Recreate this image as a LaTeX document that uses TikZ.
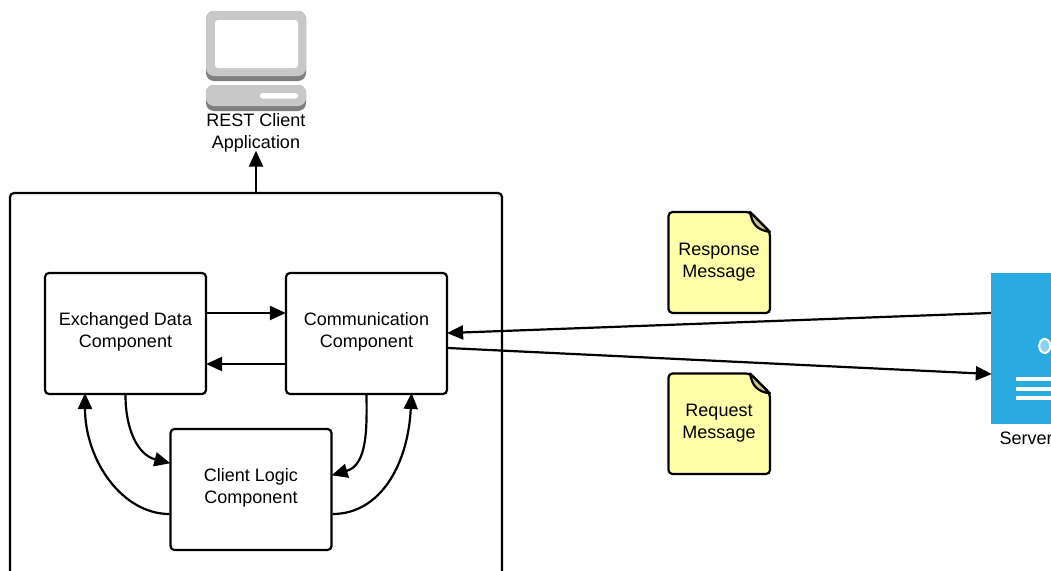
\documentclass[tikz,border=0pt]{standalone}
\usepackage{fontspec}
\setmainfont{Liberation Sans}
\usetikzlibrary{arrows.meta,shapes.geometric}
\definecolor{noteyellow}{HTML}{FFFFAA}
\definecolor{notefold}{HTML}{C9C98F}
\definecolor{serverblue}{HTML}{29ABE2}
\definecolor{pcgray}{HTML}{C8C8C8}
\definecolor{pcdark}{HTML}{7F7F7F}
\newcommand{\boxtext}[2]{\raisebox{-2.5pt}[0pt][0pt]{\parbox{150pt}{\centering #1\\#2}}}
\tikzset{
  compbox/.style={draw=black,line width=2.2pt,rounded corners=4pt,fill=white,align=center,font=\fontsize{18}{22}\selectfont,minimum width=161pt,minimum height=121pt,inner sep=0pt},
  flow/.style={draw=black,line width=2.2pt,-{Triangle[length=16pt,width=14pt]},shorten >=-1pt},
  notebody/.style={draw=black,line width=2.2pt,rounded corners=4pt,fill=noteyellow},
  lbl/.style={align=center,font=\fontsize{18}{22}\selectfont,inner sep=0pt}
}
\begin{document}
\begin{tikzpicture}[x=1pt,y=-1pt]
\useasboundingbox (0,0) rectangle (1051,570);
\fill[white] (0,0) rectangle (1051,570);
\clip (0,0) rectangle (1051,570);
% monitor
\fill[pcdark,rounded corners=8pt] (206,11) rectangle (306,81);
\fill[pcgray,rounded corners=8pt] (206,11) rectangle (306,76);
\fill[white,rounded corners=3pt] (215,20) rectangle (298,68);
\fill[pcdark,rounded corners=8pt] (206,85) rectangle (306,111);
\fill[pcgray,rounded corners=8pt] (206,85) rectangle (306,106);
\fill[white,rounded corners=2.7pt] (260,93) rectangle (298,98.5);
\node[lbl] (rest) at (256,133) {REST Client\\Application};
% outer box
\node[draw=black,line width=2.2pt,rounded corners=4pt,minimum width=492pt,minimum height=420pt,inner sep=0pt] (outer) at (256,403) {};
% components
\node[compbox] (e) at (125.5,333.5) {\boxtext{Exchanged Data}{Component}};
\node[compbox] (c) at (366.5,333.5) {\boxtext{Communication}{Component}};
\node[compbox] (l) at (251,489.5) {\boxtext{Client Logic}{Component}};
% notes
\path[notebody] (668.5,212) -- (750,212) -- (770,232) -- (770,313) -- (668.5,313) -- cycle;
\path[draw=black,line width=2.2pt,fill=notefold,line join=round] (750,212) .. controls (752,224) and (757,230) .. (770,232) -- cycle;
\node[lbl] (resp) at (719,262.5) {Response\\Message};
\path[notebody] (668.5,373.5) -- (750,373.5) -- (770,393.5) -- (770,474) -- (668.5,474) -- cycle;
\path[draw=black,line width=2.2pt,fill=notefold,line join=round] (750,373.5) .. controls (752,385.5) and (757,391.5) .. (770,393.5) -- cycle;
\node[lbl] (req) at (719,423.5) {Request\\Message};
% server
\node[fill=serverblue,minimum width=120pt,minimum height=151pt,inner sep=0pt] (s) at (1051,348.5) {};
\node[ellipse,draw=white,line width=2pt,fill=serverblue!55!white,minimum width=11pt,minimum height=14pt,inner sep=0pt] (led) at (1044.7,346) {};
\fill[white] (1016,377) rectangle (1060,381);
\fill[white] (1016,386.5) rectangle (1060,390.5);
\fill[white] (1016,396) rectangle (1060,400);
\node[lbl,anchor=west] (slabel) at (999.3,438) {Server};
% connector ends
\coordinate (ec1) at (e.east |- 0,313);
\coordinate (ce1) at (c.west |- 0,313);
\coordinate (ec2) at (e.east |- 0,364);
\coordinate (ce2) at (c.west |- 0,364);
\coordinate (sa) at (s.west |- 0,313);
\coordinate (sb) at (s.west |- 0,374);
\coordinate (ca) at (c.east |- 0,333);
\coordinate (cb) at (c.east |- 0,348);
\coordinate (la) at (l.west |- 0,463);
\coordinate (lb) at (l.west |- 0,514);
\coordinate (ra) at (l.east |- 0,475);
\coordinate (rb) at (l.east |- 0,514);
\coordinate (eb) at (85,394);
\coordinate (cc) at (411.5,394);
% connectors
\draw[flow,shorten >=0pt] (outer.north) -- ([yshift=2pt]rest.south);
\draw[flow] (ec1) -- (ce1);
\draw[flow] (ce2) -- (ec2);
\draw[flow] (sa) -- (ca);
\draw[flow] (cb) -- (sb);
\draw[flow] (e.south) .. controls (125.5,430) and (138,455) .. (la);
\draw[flow] (c.south) .. controls (367,430) and (367,465) .. (ra);
\draw[flow] (lb) .. controls (122,514) and (85,460) .. (eb);
\draw[flow] (rb) .. controls (380,514) and (408,465) .. (cc);
\end{tikzpicture}
\end{document}
